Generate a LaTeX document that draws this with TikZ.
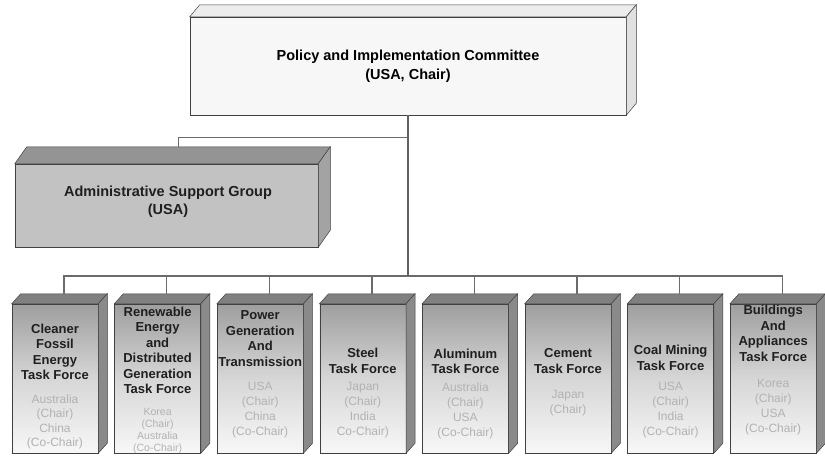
\documentclass[tikz,border=0pt]{standalone}
\usepackage{fontspec}
\setmainfont{Liberation Sans}
\usetikzlibrary{calc}
\begin{document}
\begin{tikzpicture}[x=1pt,y=-1pt,
  edge/.style={draw=black!58, line width=1.4pt},
  trunk/.style={draw=black!62, line width=2.6pt},
  face/.style={draw=black!75, line width=0.5pt},
  picfront/.style={face, rectangle, fill=black!3, minimum width=436pt, minimum height=98pt, inner sep=0pt,
    align=center, font=\fontsize{14.5}{19}\selectfont\bfseries},
  pictop/.style={face, fill=black!7},
  picside/.style={face, fill=black!12},
  asgfront/.style={face, rectangle, fill=black!24, minimum width=303pt, minimum height=83pt, inner sep=0pt},
  asgtop/.style={face, fill=black!42},
  asgside/.style={face, fill=black!36},
  asgtext/.style={align=center, font=\fontsize{14.5}{18}\selectfont\bfseries, text=black!88},
  tfbox/.style={face, rectangle, minimum width=86pt, minimum height=149pt, inner sep=0pt,
    top color=black!38, bottom color=black!3, middle color=black!16},
  tftop/.style={face, fill=black!50},
  tfside/.style={face, fill=black!46},
  tftitle/.style={align=center, inner sep=0pt, text=black!88, font=\fontsize{13}{15.5}\selectfont\bfseries},
  tfchair/.style={align=center, inner sep=0pt, text=black!30}
]
\useasboundingbox (0,0) rectangle (825,459);

% Policy and Implementation Committee
\node[picfront] (pic) at (408,66) {Policy and Implementation Committee\\(USA, Chair)};
\draw[pictop] (pic.north west) -- ++(10,-12) -- ($(pic.north east)+(10,-12)$) -- (pic.north east) -- cycle;
\draw[picside] (pic.north east) -- ++(10,-12) -- ($(pic.south east)+(10,-12)$) -- (pic.south east) -- cycle;

% Administrative Support Group
\node[asgfront] (asg) at (166.5,205.5) {};
\draw[asgtop] (asg.north west) -- ++(12,-17) -- ($(asg.north east)+(12,-17)$) -- (asg.north east) -- cycle;
\draw[asgside] (asg.north east) -- ++(12,-17) -- ($(asg.south east)+(12,-17)$) -- (asg.south east) -- cycle;
\node[asgtext] (asgt) at (168,202) {Administrative Support Group\\(USA)};
\coordinate (asgc) at ($(asg.north)+(12,-17)$);

% Task forces
\foreach \i/\ttl/\ty/\chr/\cy/\fs/\fl in {
  1/{Cleaner\\Fossil\\Energy\\Task Force}/352/{Australia\\(Chair)\\China\\(Co-Chair)}/422/12/14.5,
  2/{Renewable\\Energy\\and\\Distributed\\Generation\\Task Force}/350.5/{Korea\\(Chair)\\Australia\\(Co-Chair)}/431/10.5/12,
  3/{Power\\Generation\\And\\Transmission}/338.5/{USA\\(Chair)\\China\\(Co-Chair)}/410.5/12/15,
  4/{Steel\\Task Force}/361/{Japan\\(Chair)\\India\\Co-Chair)}/410.5/12/15,
  5/{Aluminum\\Task Force}/361.5/{Australia\\(Chair)\\USA\\(Co-Chair)}/410.5/12/15,
  6/{Cement\\Task Force}/361/{Japan\\(Chair)}/403.5/12/15,
  7/{Coal Mining\\Task Force}/358/{USA\\(Chair)\\India\\(Co-Chair)}/410.5/12/15,
  8/{Buildings\\And\\Appliances\\Task Force}/333.5/{Korea\\(Chair)\\USA\\(Co-Chair)}/407.5/12/15} {
  \pgfmathsetmacro\bx{55+(\i-1)*102.6}
  \node[tfbox] (tf\i) at (\bx,378.5) {};
  \draw[tftop] (tf\i.north west) -- ++(9,-10) -- ($(tf\i.north east)+(9,-10)$) -- (tf\i.north east) -- cycle;
  \draw[tfside] (tf\i.north east) -- ++(9,-10) -- ($(tf\i.south east)+(9,-10)$) -- (tf\i.south east) -- cycle;
  \coordinate (tc\i) at ($(tf\i.north)+(9,-10)$);
  \node[tftitle] (tt\i) at (\bx,\ty) {\ttl};
  \node[tfchair, font=\fontsize{\fs}{\fl}\selectfont] (tch\i) at (\bx,\cy) {\chr};
}

% Connectors
\coordinate (bus) at (pic.south |- 0,276);
\coordinate (asgj) at ($(pic.south)+(0,22)$);
\draw[edge] (tc1) -- (tc1 |- bus) -- (tc8 |- bus) -- (tc8);
\foreach \i in {2,...,7} { \draw[edge] (tc\i) -- (tc\i |- bus); }
\draw[edge] (asgj) -| (asgc);
\draw[trunk] (pic.south) -- (bus);
\end{tikzpicture}
\end{document}
